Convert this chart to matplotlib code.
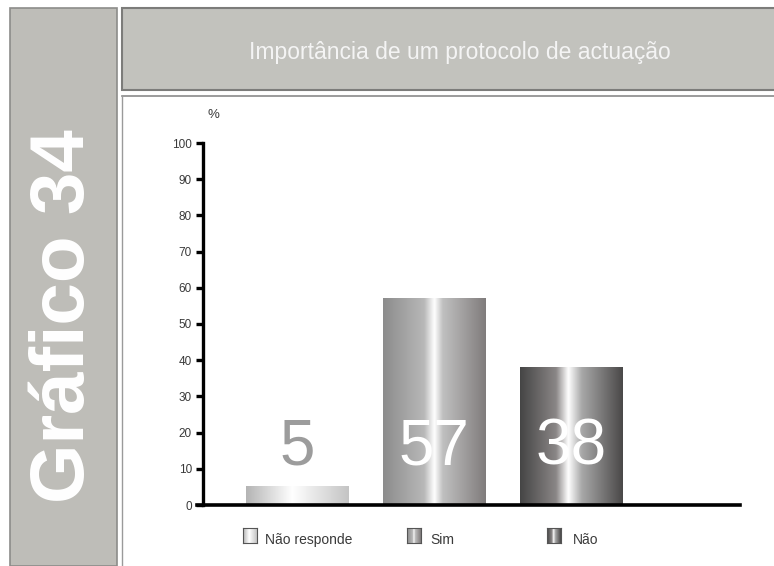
import matplotlib
matplotlib.use("Agg")
import matplotlib.pyplot as plt
import numpy as np
from matplotlib.patches import Rectangle
from matplotlib.colors import LinearSegmentedColormap
from matplotlib.lines import Line2D

plt.rcParams['font.family'] = ['Liberation Sans', 'DejaVu Sans']

# dados
categorias = ['Não responde', 'Sim', 'Não']
valores = [5, 57, 38]
yticks = [0, 10, 20, 30, 40, 50, 60, 70, 80, 90, 100]
titulo = 'Importância de um protocolo de actuação'
grafico = 'Gráfico 34'

# gradientes "cilíndricos" de cada barra
gradientes = [
    [(0.0, '#b4b4b4'), (0.45, '#ffffff'), (0.55, '#f4f4f4'), (1.0, '#c4c4c4')],
    [(0.0, '#8c8c8c'), (0.40, '#b8b8b8'), (0.50, '#ffffff'), (0.58, '#c0c0c0'), (1.0, '#807c7c')],
    [(0.0, '#454545'), (0.35, '#8a8686'), (0.47, '#ffffff'), (0.60, '#a8a8a8'), (1.0, '#4a4848')],
]
cores_numeros = ['#9c9c9c', 'white', 'white']

W, H = 774, 566
fig = plt.figure(figsize=(W / 100, H / 100), dpi=100)
fig.patch.set_facecolor('white')


def fx(px):
    return px / W


def fy(py):
    return 1 - py / H


# painel lateral
fig.patches.append(Rectangle((fx(10), 0), fx(107), fy(8), transform=fig.transFigure,
                             facecolor='#bebdb8', edgecolor='#8c8c8a', lw=1.2, zorder=0))
fig.text(fx(65), fy(316), grafico, rotation=90, ha='center', va='center',
         color='white', fontsize=55, fontweight='bold')

# painel do título
fig.patches.append(Rectangle((fx(122), fy(90)), fx(660), fy(8) - fy(90), transform=fig.transFigure,
                             facecolor='#c2c2bd', edgecolor='#7c7c7a', lw=1.5, zorder=0))
fig.add_artist(Line2D([fx(122), 1], [fy(96), fy(96)], color='#8a8a8a', lw=1.2))
fig.add_artist(Line2D([fx(122), fx(122)], [0, fy(96)], color='#9a9a9a', lw=1.0))
fig.text(fx(460), fy(53), titulo, ha='center', va='center', color='#f4f4f4',
         fontsize=16.5)

# eixos
ax = fig.add_axes([fx(203), fy(505), fx(740) - fx(203), fy(143) - fy(505)])
x = np.arange(len(valores))
largura = 0.745

for i, (v, g) in enumerate(zip(valores, gradientes)):
    cmap = LinearSegmentedColormap.from_list('g%d' % i, g)
    grad = np.linspace(0, 1, 256).reshape(1, -1)
    ax.imshow(grad, cmap=cmap, aspect='auto', interpolation='bicubic',
              extent=[x[i] - largura / 2, x[i] + largura / 2, 0, v], zorder=2)
    ax.text(x[i], 16, str(v), ha='center', va='center', color=cores_numeros[i],
            fontsize=46, zorder=3)

ax.set_xlim(-0.686, 3.234)
ax.set_ylim(0, 100)

for s in ['top', 'right', 'bottom']:
    ax.spines[s].set_visible(False)
ax.spines['left'].set_linewidth(2.4)
ax.add_line(Line2D([-0.012, 1.0], [0, 0], transform=ax.transAxes, color='black',
                   lw=2.6, clip_on=False, zorder=5))
ax.set_xticks([])
ax.set_yticks(yticks)
ax.tick_params(axis='y', direction='out', length=5, width=2.4, color='black',
               labelsize=8.5, labelcolor='#3a3a3a', pad=3)
ax.text(-0.613, 107.7, '%', ha='center', va='center', fontsize=9.5, color='#3a3a3a',
        clip_on=False)

# legenda
leg_x = [250, 414, 554]
leg_txt = [265, 430, 573]
for i, (nome, g) in enumerate(zip(categorias, gradientes)):
    cmap = LinearSegmentedColormap.from_list('l%d' % i, g)
    lax = fig.add_axes([fx(leg_x[i] - 7), fy(543), fx(14), fy(528) - fy(543)])
    lax.imshow(np.linspace(0, 1, 64).reshape(1, -1), cmap=cmap, aspect='auto')
    lax.set_xticks([])
    lax.set_yticks([])
    for sp in lax.spines.values():
        sp.set_color('#555555')
        sp.set_linewidth(0.8)
    fig.text(fx(leg_txt[i]), fy(540), nome, ha='left', va='center', fontsize=10,
             color='#3a3a3a')

fig.savefig('out.png', dpi=100, facecolor='white')
